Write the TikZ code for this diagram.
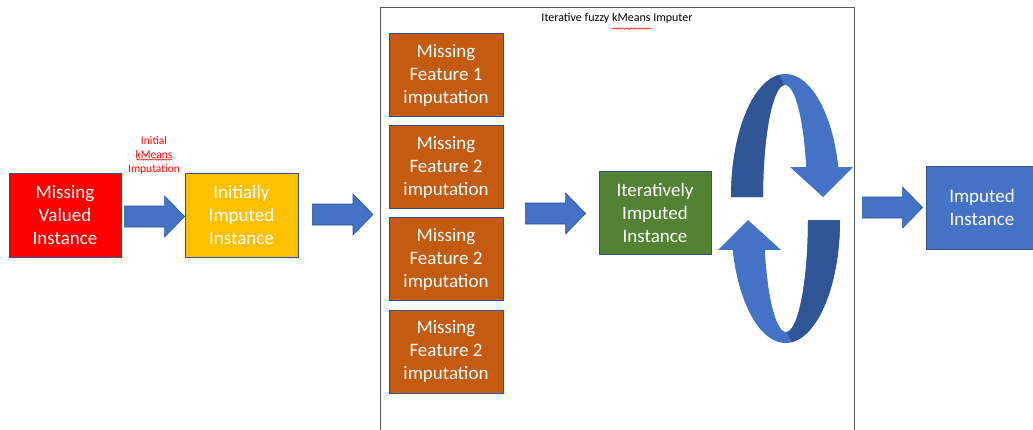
\documentclass[tikz,border=0pt]{standalone}
\usepackage{fontspec}
\setmainfont{Carlito}
\usetikzlibrary{calc,decorations.pathmorphing}

\definecolor{redfill}{HTML}{FF0000}
\definecolor{yellowfill}{HTML}{FFC000}
\definecolor{orangefill}{HTML}{C55A11}
\definecolor{greenfill}{HTML}{548235}
\definecolor{bluefill}{HTML}{4472C4}
\definecolor{boxedge}{HTML}{2F528F}
\definecolor{ribbondark}{HTML}{2F5597}
\definecolor{framegray}{HTML}{595959}
\definecolor{labelred}{HTML}{FF0000}

% half-ribbon of the cycle symbol, ending in an arrow head
\newcommand\ribbonpath{%
  plot[domain=180:14.1, samples=60] ({785.5+54.5*cos(\x)},{197-123*sin(\x)})
  -- (853,167) -- (823,197) -- (790,167)
  -- plot[domain=15.53:180, samples=60] ({785+22*cos(\x)},{197-112*sin(\x)}) -- cycle}

\tikzset{
  box/.style={draw=boxedge, line width=0.8pt, text=white, align=center,
    minimum width=112pt, minimum height=83pt, inner sep=2pt,
    font=\fontsize{19}{23}\selectfont},
  blockarrow/.style={fill=bluefill, draw=boxedge, line width=0.6pt,
    to path={let \p1=(\tikztostart), \p2=(\tikztotarget) in
      (\x1,\y1+10.5pt) -- (\x2-20pt,\y1+10.5pt) -- (\x2-20pt,\y1+20.5pt)
      -- (\x2,\y1) -- (\x2-20pt,\y1-20.5pt) -- (\x2-20pt,\y1-10.5pt)
      -- (\x1,\y1-10.5pt) -- cycle}},
  spellwave/.style={draw=red, line width=0.5pt, decorate,
    decoration={snake, amplitude=0.7pt, segment length=2.6pt}},
  ribbon/.pic={
    \fill[bluefill] \ribbonpath;
    \begin{scope}
      \clip (700,60) -- (779,60) -- (779,74) -- (787,92) -- (787,200) -- (700,200) -- cycle;
      \fill[ribbondark] \ribbonpath;
    \end{scope}
  }
}

\begin{document}
\begin{tikzpicture}[x=1pt, y=-1pt]
  \useasboundingbox (0,0) rectangle (1033,429);
  \clip (0,0) rectangle (1033,429);

  % outer frame of the imputer
  \node[draw=framegray, line width=1.3pt, minimum width=474pt, minimum height=440pt,
        inner sep=0pt, anchor=north west] (imputer) at (380,7) {};
  \node[font=\fontsize{12}{14}\selectfont] (title) at (617,18)
    {Iterative fuzzy kMeans Imputer};
  \draw[spellwave] ($(title.center)+(-5,10.5)$) -- ($(title.center)+(35,10.5)$);

  % boxes
  \node[box, fill=redfill, minimum width=112pt, minimum height=84pt] (missing) at (65,215)
    {Missing\\Valued\\Instance};
  \node[box, fill=yellowfill, minimum width=113pt, minimum height=84pt] (initial) at (241.5,215)
    {Initially\\Imputed\\Instance};
  \node[box, fill=orangefill, minimum width=114pt] (f1) at (446,75)
    {Missing\\Feature 1\\imputation};
  \node[box, fill=orangefill, minimum width=114pt] (f2) at (446,167)
    {Missing\\Feature 2\\imputation};
  \node[box, fill=orangefill, minimum width=114pt] (f3) at (446,259)
    {Missing\\Feature 2\\imputation};
  \node[box, fill=orangefill, minimum width=114pt] (f4) at (446,351.5)
    {Missing\\Feature 2\\imputation};
  \node[box, fill=greenfill] (iter) at (655,212.5)
    {Iteratively\\Imputed\\Instance};
  \node[box, fill=bluefill] (imputed) at (982,207.5)
    {Imputed\\Instance};

  % label above the first arrow
  \node[font=\fontsize{11.5}{14}\selectfont, text=labelred, align=center] (initlbl) at (154,155)
    {Initial\\kMeans\\Imputation};
  \draw[spellwave] ($(initlbl.center)+(-18,4.5)$) -- ($(initlbl.center)+(18,4.5)$);

  % block arrows
  \coordinate (a1s) at ($(missing.east)+(3,1.5)$);
  \coordinate (a1e) at ($(initial.west)+(0,1.5)$);
  \draw[blockarrow] (a1s) to (a1e);

  \coordinate (a2s) at ($(initial.east)+(14,-0.5)$);
  \coordinate (a2e) at ($(imputer.west |- initial.east)+(-7,-0.5)$);
  \draw[blockarrow] (a2s) to (a2e);

  \coordinate (a3s) at ($($(f2.east)!0.5!(f3.east)$)+(22,0.5)$);
  \coordinate (a3e) at ($(iter.west)+(-13,1)$);
  \draw[blockarrow] (a3s) to (a3e);

  \coordinate (a4s) at ($(imputer.east |- imputed.west)+(7,0)$);
  \coordinate (a4e) at ($(imputed.west)+(-3,0)$);
  \draw[blockarrow] (a4s) to (a4e);

  % cycle symbol: two half-ribbons
  \pic at (0,0) {ribbon};
  \pic[rotate=180] at (1571,417) {ribbon};
\end{tikzpicture}
\end{document}
